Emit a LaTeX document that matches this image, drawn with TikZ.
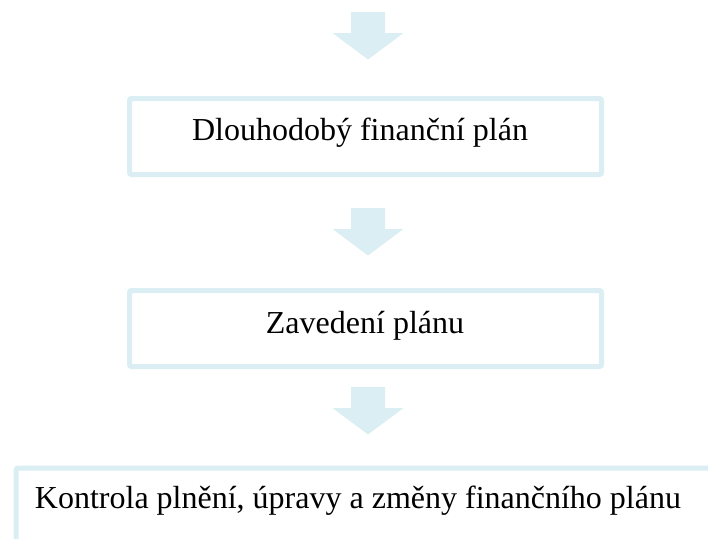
\documentclass[tikz,border=0pt]{standalone}
\usepackage{fontspec}
\setmainfont{Liberation Serif}
\definecolor{paleblue}{HTML}{DAEEF3}
\tikzset{
  stepbox/.style={draw=paleblue, line width=5pt, rounded corners=2pt, fill=white, inner sep=0pt},
  steptext/.style={font=\fontsize{32}{38}\selectfont, text=black, anchor=base, inner sep=0pt},
  flowarrow/.pic={\fill[paleblue] (-17,0) -- (17,0) -- (17,21) -- (35.5,21) -- (0,47.5) -- (-35.5,21) -- (-17,21) -- cycle;}
}
\begin{document}
\begin{tikzpicture}[x=1pt,y=-1pt]
\useasboundingbox (0,0) rectangle (708,538);
% arrows
\pic at (368,12) {flowarrow};
\pic at (368,208) {flowarrow};
\pic at (368,387) {flowarrow};
% boxes
\node[stepbox, minimum width=472pt, minimum height=76pt] (box1) at (365.5,136.5) {};
\node[steptext] (t1) at (360,140) {Dlouhodobý finanční plán};
\node[stepbox, minimum width=472pt, minimum height=76pt] (box2) at (365.5,328.5) {};
\node[steptext] (t2) at (365,333) {Zavedení plánu};
\node[stepbox, anchor=north west, minimum width=720pt, minimum height=100pt] (box3) at (13.5,465.5) {};
\node[steptext] (t3) at (358,508) {Kontrola plnění, úpravy a změny finančního plánu};
\end{tikzpicture}
\end{document}
